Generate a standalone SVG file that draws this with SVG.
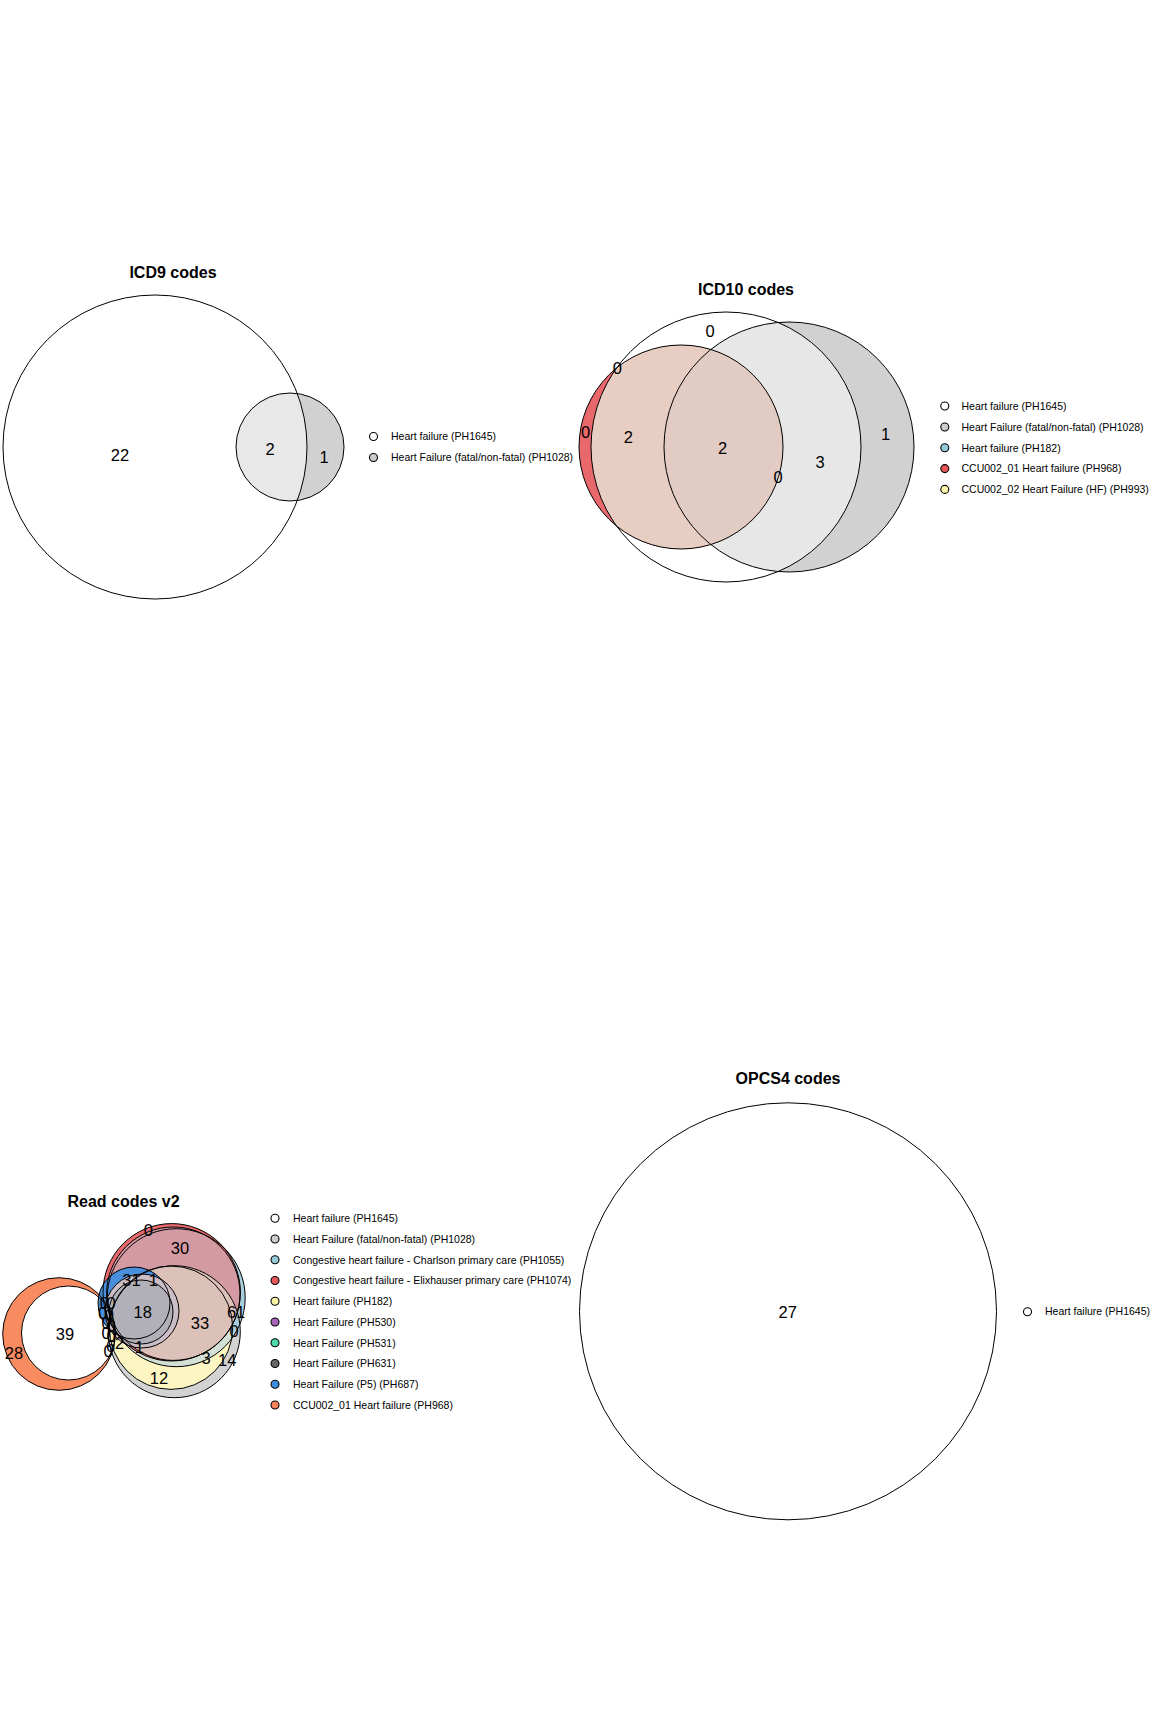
<svg xmlns="http://www.w3.org/2000/svg" width="1152" height="1728" viewBox="0 0 1152 1728">
<style>
.t{font-family:"Liberation Sans",Arial,sans-serif;font-weight:bold;font-size:16px;text-anchor:middle;fill:#000}
.n{font-family:"Liberation Sans",Arial,sans-serif;font-size:16.5px;text-anchor:middle;fill:#000}
.l{font-family:"Liberation Sans",Arial,sans-serif;font-size:10.5px;fill:#000}
.o{fill:none;stroke:#000;stroke-width:1}
.m{stroke:#000;stroke-width:1.1}
</style>
<defs>
<clipPath id="cW10"><circle cx="726" cy="447" r="135"/></clipPath>
<clipPath id="cG10"><circle cx="789" cy="447" r="125"/></clipPath>
<clipPath id="cGr"><circle cx="174.3" cy="1331.7" r="66"/></clipPath>
<clipPath id="cYr"><circle cx="171" cy="1327.7" r="61.7"/></clipPath>
<clipPath id="cRr"><circle cx="171.7" cy="1292.3" r="68.7"/></clipPath>
<clipPath id="cPr"><circle cx="173.3" cy="1293.7" r="66.7"/></clipPath>
</defs>
<rect width="1152" height="1728" fill="#fff"/>

<!-- ICD9 -->
<g id="icd9">
<text class="t" x="173" y="277.5">ICD9 codes</text>
<g id="icd9-PH1028"><circle cx="290" cy="447" r="54" fill="#d1d1d1"/></g>
<g id="icd9-PH1645"><circle cx="155" cy="447" r="152" fill="#fff" fill-opacity="0.5"/></g>
<circle class="o" cx="290" cy="447" r="54"/>
<circle class="o" cx="155" cy="447" r="152"/>
<text class="n" x="120" y="461">22</text>
<text class="n" x="270" y="455">2</text>
<text class="n" x="324" y="462.5">1</text>
<g id="icd9-legend">
<circle class="m" cx="373.5" cy="436.5" r="4" fill="#fff"/>
<text class="l" x="391" y="440.2">Heart failure (PH1645)</text>
<circle class="m" cx="373.5" cy="457.5" r="4" fill="#cccccc"/>
<text class="l" x="391" y="461.2">Heart Failure (fatal/non-fatal) (PH1028)</text>
</g>
</g>

<!-- ICD10 -->
<g id="icd10">
<text class="t" x="746" y="294.5">ICD10 codes</text>
<g id="icd10-PH1028"><circle cx="789" cy="447" r="125" fill="#d1d1d1"/></g>
<g id="icd10-PH1645"><circle cx="726" cy="447" r="135" fill="#e7e7e7" clip-path="url(#cG10)"/></g>
<g id="icd10-PH968">
<circle cx="681" cy="447" r="102" fill="#e8686b"/>
<circle cx="681" cy="447" r="102" fill="#e8cdc2" clip-path="url(#cW10)"/>
<g clip-path="url(#cW10)"><circle cx="681" cy="447" r="102" fill="#e1cbc3" clip-path="url(#cG10)"/></g>
</g>
<circle class="o" cx="726" cy="447" r="135"/>
<circle class="o" cx="789" cy="447" r="125"/>
<circle class="o" cx="681" cy="447" r="102" stroke-width="2"/>
<text class="n" x="710" y="336.7">0</text>
<text class="n" x="617.3" y="374.3">0</text>
<text class="n" x="585.7" y="437.7">0</text>
<text class="n" x="628.3" y="443.3">2</text>
<text class="n" x="722.7" y="454.3">2</text>
<text class="n" x="778" y="482.7">0</text>
<text class="n" x="820" y="468.3">3</text>
<text class="n" x="885.5" y="440.3">1</text>
<g id="icd10-legend">
<circle class="m" cx="944.8" cy="406" r="4" fill="#fff"/>
<text class="l" x="961.5" y="409.7">Heart failure (PH1645)</text>
<circle class="m" cx="944.8" cy="427" r="4" fill="#cccccc"/>
<text class="l" x="961.5" y="430.7">Heart Failure (fatal/non-fatal) (PH1028)</text>
<circle class="m" cx="944.8" cy="447.8" r="4" fill="#95c8d8"/>
<text class="l" x="961.5" y="451.5">Heart failure (PH182)</text>
<circle class="m" cx="944.8" cy="468.6" r="4" fill="#e8585b"/>
<text class="l" x="961.5" y="472.3">CCU002_01 Heart failure (PH968)</text>
<circle class="m" cx="944.8" cy="489.4" r="4" fill="#fff5a8"/>
<text class="l" x="961.5" y="493.1">CCU002_02 Heart Failure (HF) (PH993)</text>
</g>
</g>

<!-- Read codes v2 -->
<g id="read">
<text class="t" x="123.5" y="1207.4">Read codes v2</text>
<g id="read-PH968"><circle cx="59" cy="1334" r="56.3" fill="#f98b60"/></g>
<g id="read-PH1645"><circle cx="68.5" cy="1333" r="47" fill="#fff"/></g>
<g id="read-PH1028"><circle cx="174.3" cy="1331.7" r="66" fill="#d3d3d3"/></g>
<g id="read-PH182"><circle cx="171" cy="1327.7" r="61.7" fill="#fdf6c3"/></g>
<g id="read-PH1055">
<circle cx="176.2" cy="1297.7" r="69" fill="#a8cfdb"/>
<circle cx="176.2" cy="1297.7" r="69" fill="#d3e0d5" clip-path="url(#cYr)"/>
</g>
<g id="read-PH1074"><circle cx="171.7" cy="1292.3" r="68.7" fill="#e8696b"/></g>
<g id="read-PH530">
<circle cx="173.3" cy="1293.7" r="66.7" fill="#d39aa3" clip-path="url(#cRr)"/>
<g clip-path="url(#cRr)"><circle cx="174.3" cy="1331.7" r="66" fill="#dcc1b8" clip-path="url(#cPr)"/></g>
</g>
<g id="read-PH687"><circle cx="134" cy="1303" r="36" fill="#4a8fdc"/></g>
<g id="read-PH531"><circle cx="142" cy="1311" r="37" fill="#cbbdc5"/></g>
<g id="read-PH631"><circle cx="141" cy="1312" r="32" fill="#b1b0b8"/></g>
<g id="read-outlines">
<circle class="o" cx="59" cy="1334" r="56.3"/>
<circle class="o" cx="68.5" cy="1333" r="47"/>
<circle class="o" cx="174.3" cy="1331.7" r="66"/>
<circle class="o" cx="171" cy="1327.7" r="61.7"/>
<circle class="o" cx="176.2" cy="1297.7" r="69"/>
<circle class="o" cx="171.7" cy="1292.3" r="68.7"/>
<circle class="o" cx="173.3" cy="1293.7" r="66.7"/>
<circle class="o" cx="134" cy="1303" r="36"/>
<circle class="o" cx="142" cy="1311" r="37"/>
<circle class="o" cx="141" cy="1312" r="32"/>
</g>
<text class="n" x="65" y="1340">39</text>
<text class="n" x="14" y="1358.7">28</text>
<text class="n" x="148.3" y="1236">0</text>
<text class="n" x="180" y="1254.3">30</text>
<text class="n" x="131.5" y="1286">31</text>
<text class="n" x="153.3" y="1286">1</text>
<text class="n" x="142.7" y="1318.3">18</text>
<text class="n" x="200" y="1329.3">33</text>
<text class="n" x="231.7" y="1317.7">6</text>
<text class="n" x="240.7" y="1318.3">1</text>
<text class="n" x="234" y="1337">0</text>
<text class="n" x="206" y="1364.3">3</text>
<text class="n" x="227.3" y="1366">14</text>
<text class="n" x="159" y="1384.3">12</text>
<text class="n" x="139.3" y="1352.7">1</text>
<text class="n" x="119.5" y="1349.3">2</text>
<text class="n" x="110.7" y="1351.7">6</text>
<text class="n" x="104.3" y="1309">0</text>
<text class="n" x="111" y="1309">0</text>
<text class="n" x="102.7" y="1319">0</text>
<text class="n" x="109.3" y="1320.7">0</text>
<text class="n" x="106" y="1329">0</text>
<text class="n" x="111" y="1332.3">0</text>
<text class="n" x="106" y="1339">0</text>
<text class="n" x="111" y="1342.3">0</text>
<text class="n" x="108" y="1357">0</text>
<g id="read-legend">
<circle class="m" cx="275" cy="1218.3" r="4" fill="#fff"/>
<text class="l" x="293" y="1222">Heart failure (PH1645)</text>
<circle class="m" cx="275" cy="1239" r="4" fill="#cccccc"/>
<text class="l" x="293" y="1242.7">Heart Failure (fatal/non-fatal) (PH1028)</text>
<circle class="m" cx="275" cy="1259.8" r="4" fill="#95c8d8"/>
<text class="l" x="293" y="1263.5">Congestive heart failure - Charlson primary care (PH1055)</text>
<circle class="m" cx="275" cy="1280.5" r="4" fill="#e8585b"/>
<text class="l" x="293" y="1284.2">Congestive heart failure - Elixhauser primary care (PH1074)</text>
<circle class="m" cx="275" cy="1301.3" r="4" fill="#fff5a8"/>
<text class="l" x="293" y="1305">Heart failure (PH182)</text>
<circle class="m" cx="275" cy="1322" r="4" fill="#a865b5"/>
<text class="l" x="293" y="1325.7">Heart Failure (PH530)</text>
<circle class="m" cx="275" cy="1342.8" r="4" fill="#4dd9a6"/>
<text class="l" x="293" y="1346.5">Heart Failure (PH531)</text>
<circle class="m" cx="275" cy="1363.5" r="4" fill="#666666"/>
<text class="l" x="293" y="1367.2">Heart Failure (PH631)</text>
<circle class="m" cx="275" cy="1384.3" r="4" fill="#3f8de0"/>
<text class="l" x="293" y="1388">Heart Failure (P5) (PH687)</text>
<circle class="m" cx="275" cy="1405" r="4" fill="#f9825a"/>
<text class="l" x="293" y="1408.7">CCU002_01 Heart failure (PH968)</text>
</g>
</g>

<!-- OPCS4 -->
<g id="opcs4">
<text class="t" x="788" y="1084">OPCS4 codes</text>
<g id="opcs4-PH1645"><circle class="o" cx="788" cy="1311.3" r="208.5" fill="#fff"/></g>
<text class="n" x="787.7" y="1318">27</text>
<g id="opcs4-legend">
<circle class="m" cx="1027.5" cy="1311.7" r="4" fill="#fff"/>
<text class="l" x="1045" y="1315.4">Heart failure (PH1645)</text>
</g>
</g>
</svg>
